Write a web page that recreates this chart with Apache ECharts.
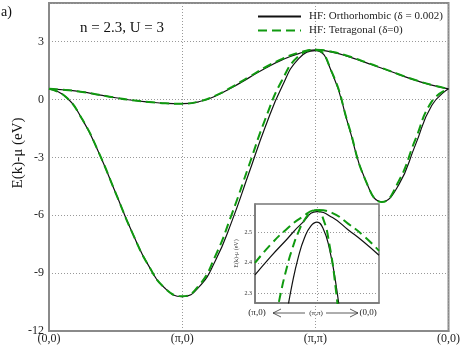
<!DOCTYPE html>
<html>
<head>
<meta charset="utf-8">
<script src="https://cdn.jsdelivr.net/npm/echarts@6/dist/echarts.min.js"></script>
<style>
  html, body { margin: 0; padding: 0; background: #fff; }
  #chart { width: 463px; height: 349px; }
</style>
</head>
<body>
<div id="chart"></div>
<script>
// k-path positions: (0,0) -> (pi,0) -> (pi,pi) -> (0,0), one unit per segment
var kPos = [0, 0.125, 0.25, 0.375, 0.5, 0.625, 0.75, 0.875,
            1, 1.125, 1.25, 1.375, 1.5, 1.625, 1.75, 1.875,
            2, 2.125, 2.25, 2.375, 2.5, 2.625, 2.75, 2.875, 3];
var kLabels = ['(0,0)', '(\u03c0,0)', '(\u03c0,\u03c0)', '(0,0)'];

// orthorhombic (black)
var orthoBand1 = [0.55, 0.14, -1.03, -2.77, -4.84, -6.90, -8.64, -9.81,
                  -10.22, -9.73, -8.35, -6.28, -3.84, -1.40, 0.67, 2.12,
                  2.535, 1.39, -1.38, -4.16, -5.30, -4.44, -2.38, -0.30, 0.55];
var orthoBand2 = [0.55, 0.49, 0.39, 0.24, 0.09, -0.04, -0.13, -0.20,
                  -0.22, -0.12, 0.18, 0.62, 1.12, 1.62, 2.05, 2.38,
                  2.57, 2.45, 2.22, 1.92, 1.62, 1.30, 1.00, 0.74, 0.55];
// tetragonal (green dashed)
var tetraBand1 = [0.55, 0.14, -1.03, -2.77, -4.84, -6.90, -8.64, -9.81,
                  -10.20, -9.65, -8.10, -5.90, -3.45, -1.00, 1.00, 2.25,
                  2.575, 1.40, -1.35, -4.15, -5.32, -4.25, -2.10, -0.10, 0.55];
var tetraBand2 = [0.55, 0.49, 0.39, 0.24, 0.09, -0.04, -0.13, -0.20,
                  -0.22, -0.11, 0.20, 0.65, 1.16, 1.67, 2.10, 2.42,
                  2.575, 2.47, 2.24, 1.94, 1.63, 1.31, 1.01, 0.75, 0.55];

// inset around (pi,pi): -1 toward (pi,0), +1 toward (0,0)
var insetX = [-1, -0.75, -0.5, -0.25, 0, 0.25, 0.5, 0.75, 1];
var insetOrthoFlat = [2.36, 2.42, 2.475, 2.53, 2.57, 2.55, 2.51, 2.47, 2.425];
var insetTetraFlat = [2.40, 2.46, 2.51, 2.55, 2.575, 2.565, 2.53, 2.49, 2.44];
var insetOrthoSteepX = [-0.5, -0.4, -0.3, -0.2, -0.1, 0, 0.1, 0.2, 0.3, 0.4];
var insetOrthoSteep = [2.216, 2.33, 2.42, 2.484, 2.522, 2.535, 2.513, 2.447, 2.337, 2.183];
var insetTetraSteepX = [-0.7, -0.6, -0.5, -0.4, -0.3, -0.2, -0.1, 0, 0.1, 0.2, 0.3, 0.4];
var insetTetraSteep = [2.18, 2.285, 2.374, 2.446, 2.502, 2.543, 2.567, 2.575, 2.546, 2.461, 2.319, 2.12];
var insetTicks = [2.3, 2.4, 2.5];

var nameOrtho = 'HF: Orthorhombic (\u03b4 = 0.002)';
var nameTetra = 'HF: Tetragonal (\u03b4=0)';

var font = 'Liberation Serif';
var black = '#111';
var green = '#109a10';

function pairs(xs, ys) {
  return xs.map(function (x, i) { return [x, ys[i]]; });
}

var chart = echarts.init(document.getElementById('chart'));

var dotted = { show: true, lineStyle: { color: '#999', type: [1, 2], width: 1 } };

function lineSeries(name, data, dashed, axisIdx, z) {
  return {
    name: name,
    type: 'line',
    xAxisIndex: axisIdx,
    yAxisIndex: axisIdx,
    data: data,
    smooth: true,
    symbol: 'none',
    z: z,
    animation: false,
    lineStyle: dashed ? { color: green, width: 2, type: [9, 5] } : { color: black, width: 1.2 },
    itemStyle: { color: dashed ? green : black }
  };
}

var option = {
  animation: false,
  textStyle: { fontFamily: font },
  legend: {
    orient: 'vertical',
    left: 252,
    top: 6,
    itemWidth: 43,
    itemHeight: 10,
    itemGap: 3,
    itemStyle: { opacity: 0 },
    data: [nameOrtho, nameTetra],
    textStyle: { fontFamily: font, fontSize: 11, color: '#222', padding: [0, 0, 0, 3] }
  },
  grid: [
    { left: 49, right: 13, top: 3, bottom: 18, show: true, borderColor: '#8a8a8a', borderWidth: 2 },
    { left: 255, top: 204, width: 124, height: 99, show: true, z: 1,
      backgroundColor: '#fff', borderColor: '#777', borderWidth: 1.5 }
  ],
  xAxis: [
    {
      gridIndex: 0, type: 'value', min: 0, max: 3, interval: 1,
      axisLine: { onZero: false, lineStyle: { color: '#8a8a8a', width: 2 } },
      axisTick: { show: false },
      splitLine: dotted,
      axisLabel: {
        fontFamily: font, fontSize: 12, color: '#222', margin: 2,
        formatter: function (v) { return kLabels[Math.round(v)]; }
      }
    },
    {
      gridIndex: 1, type: 'value', min: -1, max: 1, interval: 1, z: 1,
      axisLine: { onZero: false, lineStyle: { color: '#777', width: 1.5 } },
      axisTick: { show: false },
      axisLabel: { show: false },
      splitLine: dotted
    }
  ],
  yAxis: [
    {
      gridIndex: 0, type: 'value', min: -12, max: 5, interval: 3,
      axisLine: { onZero: false, lineStyle: { color: '#8a8a8a', width: 2 } },
      axisTick: { show: false },
      splitLine: dotted,
      axisLabel: {
        fontFamily: font, fontSize: 12, color: '#222', margin: 5,
        formatter: function (v) { return v === 5 ? '' : String(v); }
      }
    },
    {
      gridIndex: 1, type: 'value', min: 2.267, max: 2.595, z: 1,
      axisLine: { onZero: false, lineStyle: { color: '#777', width: 1.5 } },
      axisTick: { show: false, customValues: insetTicks },
      splitLine: dotted,
      axisLabel: {
        fontFamily: font, fontSize: 6, color: '#333', margin: 3,
        customValues: insetTicks,
        formatter: function (v) { return v.toFixed(1); }
      },
      name: 'E(k)-\u03bc (eV)',
      nameLocation: 'middle',
      nameGap: 16,
      nameTextStyle: { fontFamily: font, fontSize: 6, color: '#333' }
    }
  ],
  graphic: [
    { type: 'text', left: 1, top: 5, style: { text: 'a)', font: '14px "Liberation Serif"', fill: '#111' } },
    { type: 'text', left: 80, top: 21, style: { text: 'n = 2.3, U = 3', font: '15px "Liberation Serif"', fill: '#111' } },
    { type: 'text', x: 18, y: 153, rotation: Math.PI / 2, style: {
        text: 'E(k)-\u03bc (eV)', font: '15px "Liberation Serif"', fill: '#111',
        align: 'center', verticalAlign: 'middle' } },
    { type: 'text', x: 257, y: 313, style: { text: '(\u03c0,0)', font: '9px "Liberation Serif"', fill: '#222', align: 'center', verticalAlign: 'middle' } },
    { type: 'text', x: 316, y: 313, style: { text: '(\u03c0,\u03c0)', font: '7px "Liberation Serif"', fill: '#222', align: 'center', verticalAlign: 'middle' } },
    { type: 'text', x: 368, y: 313, style: { text: '(0,0)', font: '9px "Liberation Serif"', fill: '#222', align: 'center', verticalAlign: 'middle' } },
    { type: 'polyline', shape: { points: [[305, 313], [273, 313]] }, style: { stroke: '#333', lineWidth: 0.8 } },
    { type: 'polyline', shape: { points: [[281, 309], [273, 313], [281, 317]] }, style: { stroke: '#333', lineWidth: 0.8, fill: null } },
    { type: 'polyline', shape: { points: [[326, 313], [358, 313]] }, style: { stroke: '#333', lineWidth: 0.8 } },
    { type: 'polyline', shape: { points: [[350, 309], [358, 313], [350, 317]] }, style: { stroke: '#333', lineWidth: 0.8, fill: null } }
  ],
  series: [
    lineSeries(nameOrtho, pairs(kPos, orthoBand1), false, 0, 3),
    lineSeries(nameOrtho, pairs(kPos, orthoBand2), false, 0, 3),
    lineSeries(nameTetra, pairs(kPos, tetraBand1), true, 0, 4),
    lineSeries(nameTetra, pairs(kPos, tetraBand2), true, 0, 4),
    lineSeries(nameOrtho, pairs(insetX, insetOrthoFlat), false, 1, 5),
    lineSeries(nameOrtho, pairs(insetOrthoSteepX, insetOrthoSteep), false, 1, 5),
    lineSeries(nameTetra, pairs(insetX, insetTetraFlat), true, 1, 6),
    lineSeries(nameTetra, pairs(insetTetraSteepX, insetTetraSteep), true, 1, 6)
  ]
};

chart.setOption(option);
</script>
</body>
</html>
